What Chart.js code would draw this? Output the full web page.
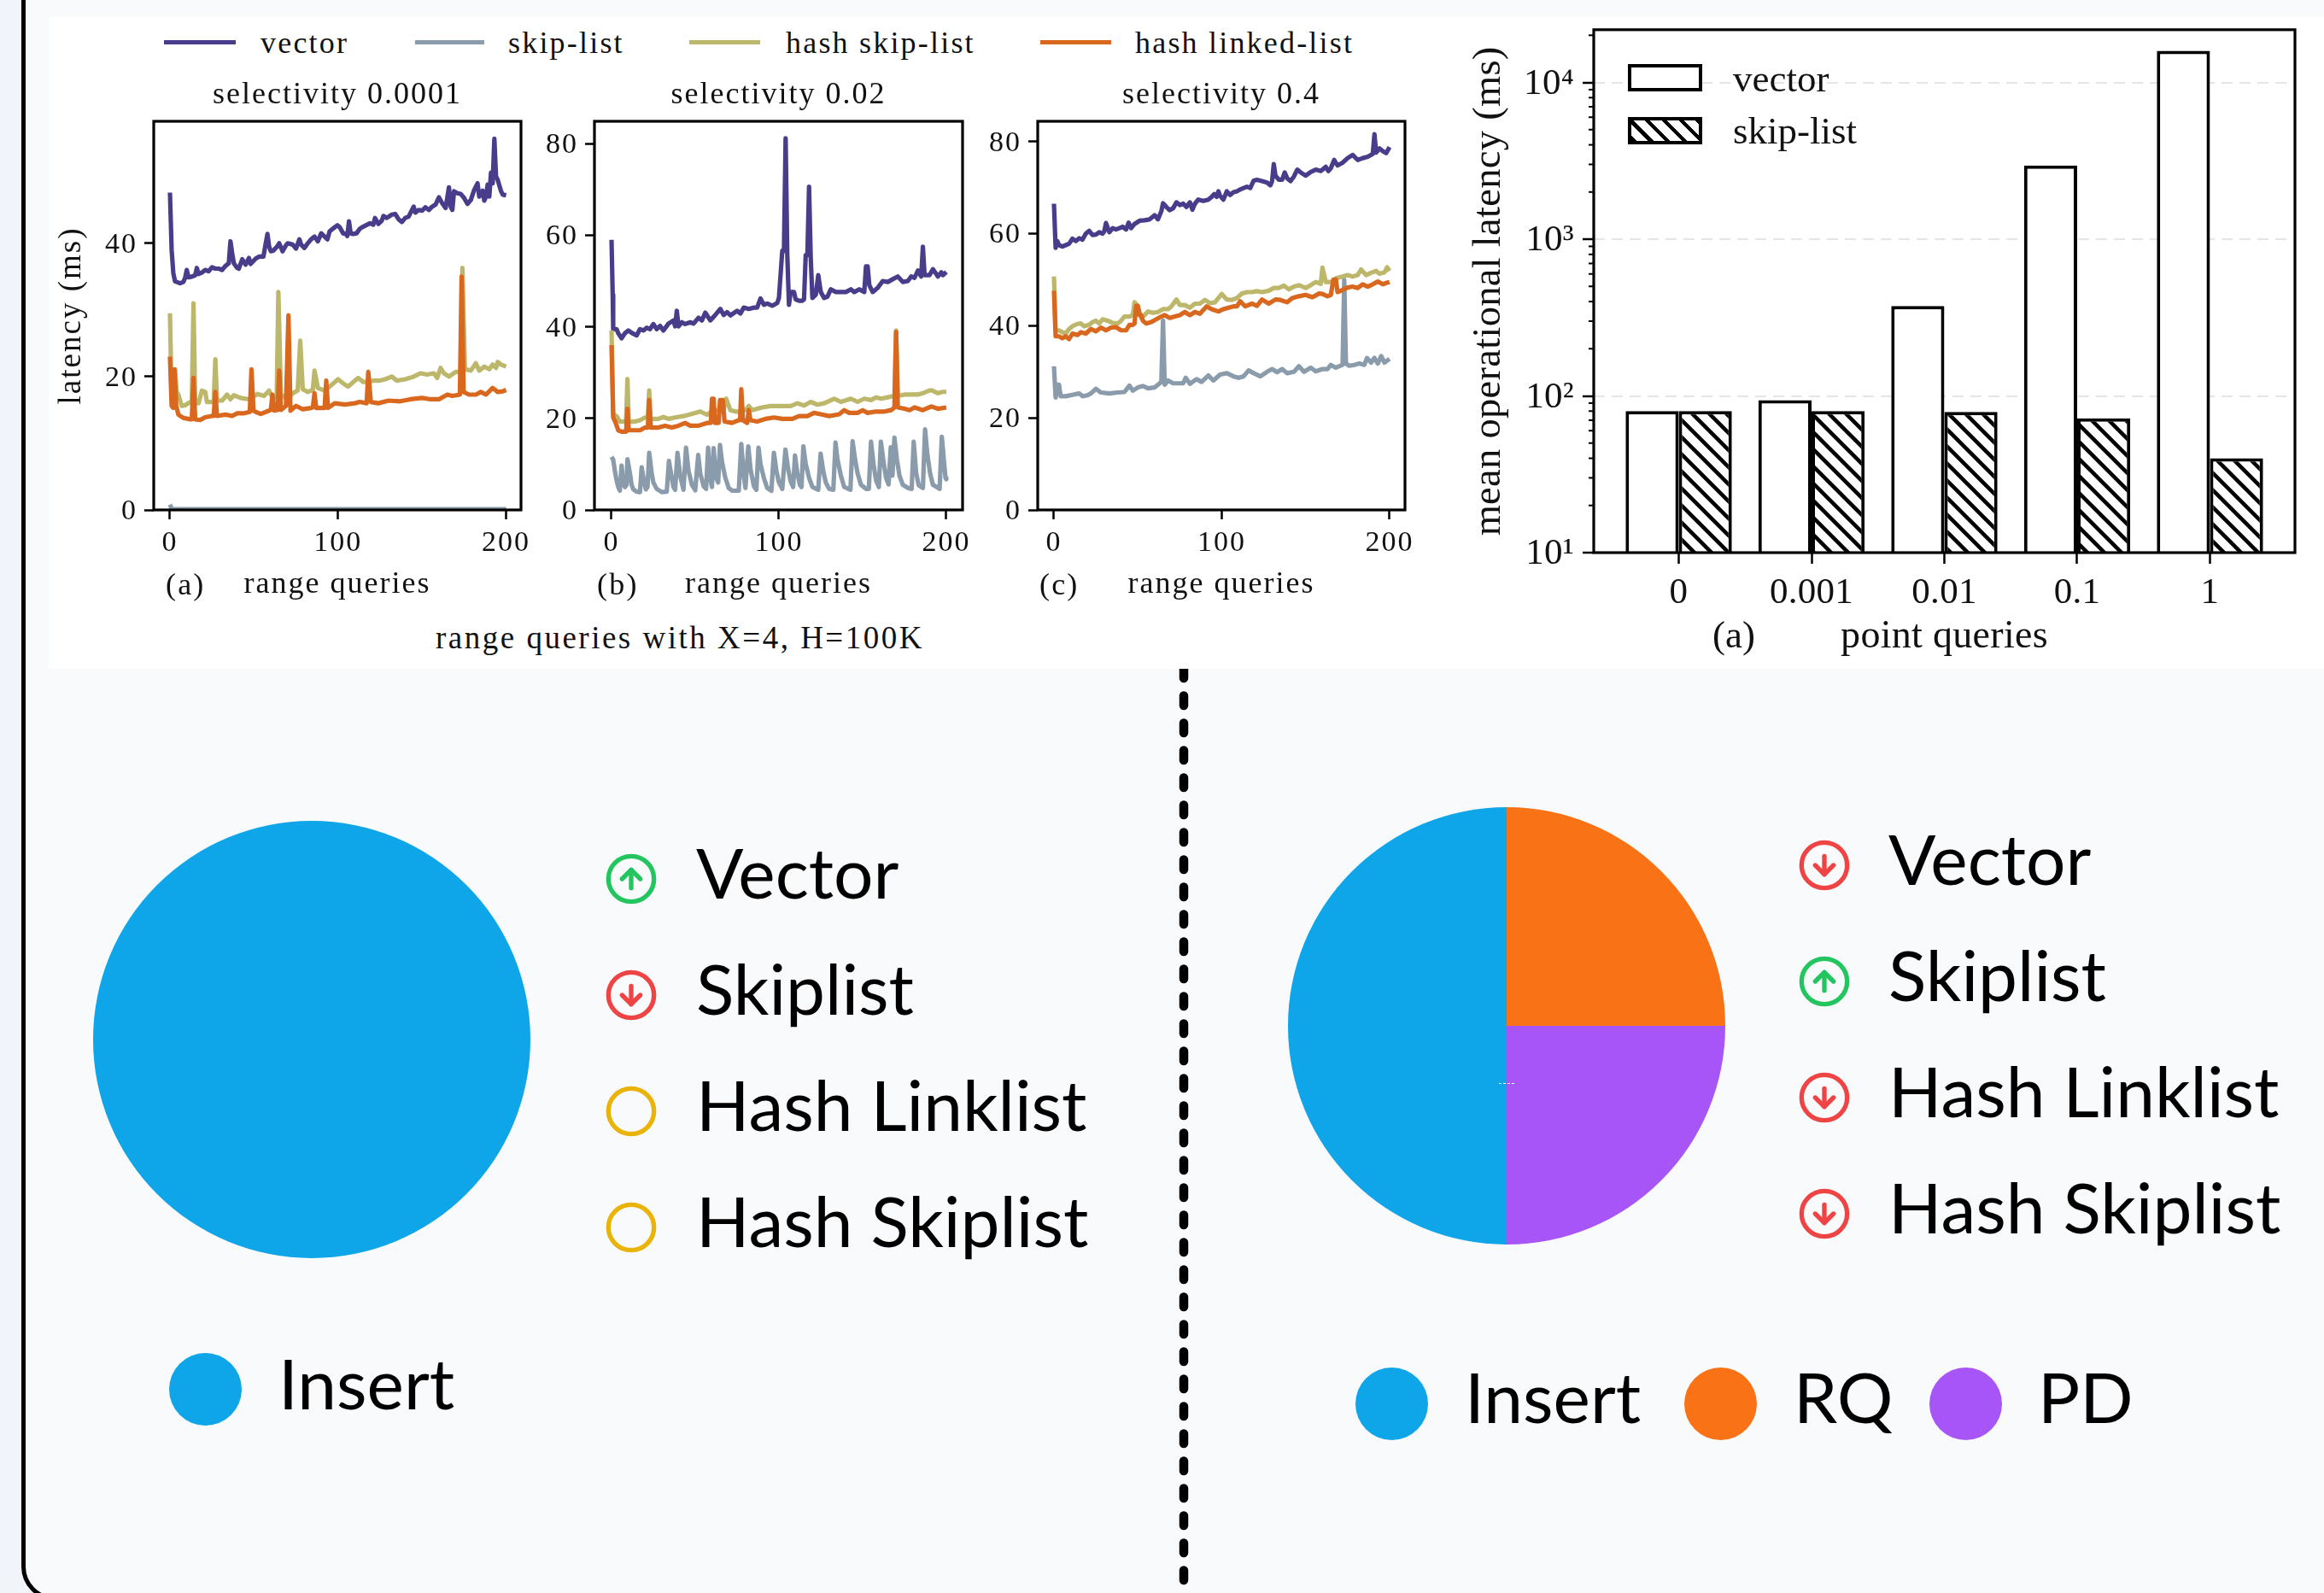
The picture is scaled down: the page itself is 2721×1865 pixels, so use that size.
<!DOCTYPE html>
<html>
<head>
<meta charset="utf-8">
<title>Operational latency</title>
<script src="https://cdn.jsdelivr.net/npm/chart.js@4/dist/chart.umd.js"></script>
<style>
html, body { margin: 0; padding: 0; }
body { position: relative; width: 2721px; height: 1865px; overflow: hidden; background: #f1f5f9; }
canvas { position: absolute; }
#frame { position: absolute; left: 25px; top: -40px; width: 2800px; height: 1914px; box-sizing: border-box;
  border: 5px solid #000; border-radius: 40px; background: #f8fafc; }
#paper { position: absolute; left: 57px; top: 20px; width: 2664px; height: 763px; background: #fff; }
#divider { position: absolute; left: 1376px; top: 783px; }
.serif { position: absolute; font-family: "Liberation Serif", serif; color: #111; white-space: nowrap; line-height: 1; }
.fig { font-size: 36px; letter-spacing: 2.2px; }
.barfig { font-size: 45px; }
.sans { position: absolute; font-family: "Lato", sans-serif; font-size: 82px; line-height: 82px; color: #000; white-space: nowrap; }
.dot { position: absolute; width: 85px; height: 85px; border-radius: 50%; }
.trend { position: absolute; }
.legline { position: absolute; height: 5px; }
.swatch { position: absolute; box-sizing: border-box; width: 87px; height: 32px; border: 4px solid #000; background: #fff; }
#pieMark { position: absolute; left: 1755px; top: 1268px; width: 18px; border-top: 1px dashed #fff; }
</style>
</head>
<body>
<div id="frame"></div>
<div id="paper"></div>
<svg id="divider" width="20" height="1082"><line x1="10" y1="-0.5" x2="10" y2="1090" stroke="#000" stroke-width="10.5" stroke-linecap="round" stroke-dasharray="11.5 20.5"/></svg>

<canvas id="panelA" width="578" height="616" style="left:62px;top:90px"></canvas>
<canvas id="panelB" width="527" height="616" style="left:630px;top:90px"></canvas>
<canvas id="panelC" width="525" height="616" style="left:1150px;top:90px"></canvas>
<canvas id="barChart" width="1005" height="775" style="left:1716px;top:-1px"></canvas>
<canvas id="pieLeft" width="512" height="512" style="left:109px;top:961px"></canvas>
<canvas id="pieRight" width="512" height="512" style="left:1508px;top:945px"></canvas>
<div id="pieMark"></div>

<script>
// range query latency as [query, ms]
var vectorA = [[0,47.6],[1,39],[2,35.5],[3,34.3],[6,34],[8,34.2],[9,34.8],[10,36],[11,34.9],[13,35],[15,35.2],[16,36.3],[17,35.4],[19,35.6],[21,36],[23,35.8],[25,36.4],[27,36.2],[29,36.2],[31,36],[33,36.6],[35,37],[36,40.3],[37,38.5],[38,37],[40,36.3],[41,36.2],[43,37.6],[45,36.8],[47,37.8],[48,36.9],[51,37.7],[53,38],[55.6,38],[57,40],[58,41.4],[59,39.5],[60,38.8],[61.5,38.9],[64,39.6],[65,40],[67,38.8],[69,39.7],[70,40],[73,39.8],[75,39.2],[77,40.6],[78,39.8],[80,39.3],[82,40],[84,40.6],[86,41],[88,40.3],[90,41.5],[92,41],[93.7,40.6],[95,41.8],[97,42.2],[99.6,42.7],[101,42.4],[103,41.5],[104.7,41.4],[105.5,41.1],[106.5,43.3],[107.5,41.5],[109,41.4],[111,41.5],[113,42.2],[115,42.5],[119,43],[121,42.8],[122,43.8],[124,42.9],[126,43.4],[127,44.1],[129,43.8],[132,44.3],[134,44.4],[136,43.6],[138,43.2],[140,43.8],[142,44],[143,44.5],[145,45.5],[146,44.6],[148,45],[150,44.9],[152,45.4],[154,45],[156,45.5],[158,45.8],[160,46.9],[162,46],[164,45.3],[166,48.4],[167,45.5],[168,45],[169,47.8],[171,47.5],[173,47.4],[175,46.8],[177,45.9],[179,46.5],[181,48],[183,49],[184,47],[186,47.9],[187,46.4],[188,47],[189,48.8],[190,47],[191,50.6],[192,49],[193,55.7],[194,50],[195,49.5],[197,47.8],[198,47.3],[200,47.2]];
var skipA = [[0,0.8],[1,0.2],[3,0.1],[60,0.1],[120,0.1],[200,0.1]];
var hashSkipA = [[0,29.5],[1,16.8],[3,21.1],[4,17.7],[5,17.3],[7,15.6],[9,15.7],[12,16.2],[13,16.2],[14,31],[15,16],[17,16],[19,17.9],[21,17.7],[22,16.2],[25,16.2],[26,16.2],[27,22.6],[28,16.4],[31,16.4],[34,17.3],[36,16.6],[38,17.2],[42,16.8],[47,16.6],[52,17.4],[56,17.1],[59,17.9],[61,16.8],[63.5,16.9],[64.5,32.7],[66,17.3],[70,16.6],[73,17.5],[76,17.9],[77.5,25.4],[79,18.1],[82,17.7],[85,18],[86,20.9],[88,18.3],[92,17.9],[95,18.5],[100,19.6],[104,18.8],[106,18.5],[110,19.4],[112,19.8],[115,19.2],[118,19.2],[121,19.4],[125,19.4],[128,19.6],[132,20],[135,19.4],[140,19.6],[145,20],[149,20.5],[153,20.3],[157,20.5],[159,19.8],[161,21.3],[163,20.5],[166,20],[170,20.7],[173,20.7],[174,36.3],[175.5,21.1],[179,20.9],[182,22],[184,20.9],[187,21.5],[190,21.1],[192,21.8],[194,21.3],[195,22.2],[197,21.8],[200,21.5]];
var hashLinkA = [[0,23],[1,15.6],[2,15.3],[2.7,21.1],[3.7,15.6],[5,14.3],[8,13.8],[12,13.6],[13,13.6],[14,19.8],[15,13.6],[18,13.5],[21,13.9],[25,14.1],[26,14.1],[27,17.7],[28,14.1],[33,14.3],[37,14.1],[40,14.5],[44,14.5],[47.5,14.7],[48.5,21.1],[49.7,14.9],[51,14.7],[54,14.4],[58,14.8],[60,15],[61,17.3],[62,14.9],[64,15],[65,20.9],[66,15],[69,15.6],[70.5,29.2],[71.7,14.9],[75,15.6],[79,15.1],[84,15.3],[85,15.4],[86,17.5],[87,15.3],[92,15.3],[93,19.4],[94,15.3],[98,16],[104,15.8],[110,16],[113,16.2],[117,16],[118,20.7],[119.5,16.2],[124,16],[130,16.4],[137,16.3],[143,16.6],[150,16.8],[155,16.6],[160,16.6],[165,17.3],[168,17.1],[172.5,17.3],[173.5,35],[174.7,17.7],[178,17.3],[182,17.3],[185,17.7],[188,17.3],[192,18.3],[195,17.7],[198,17.8],[200,18]];

var vectorB = [[0,59],[0.7,47],[1,39.5],[3,39.5],[4,38.6],[6,37.5],[8,38.6],[10,39.2],[12,38.7],[15,38.1],[17,39.5],[19,39.2],[21,39.8],[23,39.5],[25,40.6],[27,39.5],[29,40.2],[31,39.2],[34,40.7],[37,41.4],[38,40.1],[39,43.5],[40,40.1],[42,41],[44,40.6],[47,41],[49,40.7],[52,42],[54,41.4],[56,43.1],[59,41.4],[62,42.6],[65,43.9],[67,42.6],[69,43.2],[71,42.5],[75,43.5],[77,42.9],[79,44.2],[82,43.9],[85,44.2],[87,44.2],[89,46.2],[91,44.8],[93,45.1],[96,44.6],[99,45.2],[100,46.3],[102,56.6],[103,56.6],[104,81.2],[105,55.7],[106,44.8],[107,47.6],[109,47.6],[110,46],[112,45.7],[114,45.7],[115,46],[116,55.7],[117,55.7],[118,70.6],[119,55],[120,46.3],[122,47],[123.5,51.3],[125,47.6],[127,46.3],[129,46.6],[131,48.2],[134,47.6],[137,47.6],[140,47.6],[143,48.2],[145,47.6],[148,48.2],[151,47.6],[152,53.2],[153,53.2],[154,49.1],[156,47.6],[159,48.5],[162,50],[165,49.8],[168,50.4],[171,51],[174,49.8],[177,50],[179,51],[181,50.7],[183,52.3],[185,51],[186,57.5],[187,51.3],[190,51.3],[192,52.6],[195,51],[197,51.9],[198,51.3],[200,52]];
var skipB = [[0,11.6],[1,11],[2,8.5],[3,6.5],[4,5],[5,4.2],[6,9.7],[7,6],[8,5],[9,5.5],[9.5,11.1],[11,8],[12,5.5],[13,4.5],[15,4],[17,3.9],[18,9.3],[19.5,6],[20.5,4.5],[21.5,5],[22.5,12.5],[24,8],[25,6],[27,4.6],[30,3.9],[33,4],[34.3,10.7],[35.5,8],[37,5],[38,4.4],[39.4,12.5],[41,7.5],[43,4.4],[44.5,13.6],[46,8.5],[48,5.5],[50,4.3],[51.8,12],[53,8],[55,5.2],[56.5,4.6],[57.7,13.6],[59,7],[60,5],[61,13.5],[62.5,7],[63.7,6],[64.8,14.2],[66,10.5],[68,7],[70,4.8],[72,4.2],[76,4.2],[77.5,14.4],[79,7.5],[80,4.8],[81.7,13.9],[83,9],[85,5.2],[86.5,4.4],[87.8,13.6],[89,10],[91,7],[93,4.8],[95.5,4.2],[97,12.5],[98.5,8.5],[100,6],[102,4.6],[103.9,13.2],[105.5,9],[107,6.2],[108.5,5],[109.6,11.9],[111,8],[112.5,5.5],[113.5,5],[114.6,13.9],[116,10],[118,7],[120,5],[123.5,4.4],[124.9,12.3],[126.5,8.5],[128,6],[130,4.6],[132.5,4.4],[133.8,14.7],[135,11],[137,7.5],[139,5],[142.7,4.4],[144,15],[145.5,11],[147,8],[149,5.5],[152,4.6],[153.7,4.6],[155,14.9],[156.5,10],[158,6.5],[159.7,5],[160.9,14.9],[162.5,10.5],[164,7],[165.5,5.6],[166.8,13.7],[167.8,7.5],[169,15.8],[170.5,11],[172,7.5],[174,5.5],[177,4.8],[179.3,4.6],[180.5,14.9],[182,8],[183.5,5.4],[186,4.8],[187.3,17.6],[188.7,12],[190.3,8],[192,5.5],[196,4.6],[197.3,16],[198.5,11],[199.5,7],[200,6.7]];
var hashSkipB = [[0,39.2],[1,20.8],[3,20.5],[5,19.3],[8,19.3],[8.7,19.3],[9.5,28.6],[10.3,19.3],[14,19.3],[17,19.6],[20,20.2],[21.7,20.2],[22.5,26.1],[23.3,19.9],[28,19.9],[31,20.3],[34,19.9],[38,20.2],[43,20.5],[50,21.2],[53,21.5],[57,20.8],[60,21.5],[67,22.1],[68.5,24.3],[71,21.8],[74,21.5],[76,21.5],[80,21.8],[82,22.7],[84,21.8],[90,22.4],[95,22.7],[102,22.7],[107,22.7],[111,23.3],[115,22.8],[119,23.6],[123,23],[127,23.3],[133,24.3],[137,23.6],[143,24.3],[147,23.6],[151,24.3],[155,24],[158,24.6],[161,24.3],[165,24.6],[169,24.9],[170,39.2],[171,24.9],[175,25.2],[179,25.2],[183,25.2],[186,25.5],[190,26.1],[191.5,26.1],[195,25.5],[198,25.8],[200,25.8]];
var hashLinkB = [[0,36],[1,20.2],[2.5,19],[4,17.4],[6,17.1],[8.7,17.1],[9.5,22.1],[10.3,17.4],[14,17.4],[17,17.4],[20,18],[21.7,18],[22.5,24],[23.5,18],[28,18],[32,18.4],[36,18],[40,18.4],[44,19],[47,18.4],[52,18.4],[57,19],[59.3,19],[60,24.3],[61,24.3],[61.8,19],[64,19],[64.8,24],[66.5,24],[67.5,19.3],[72,19],[76,19.6],[76.8,19.6],[77.5,26.4],[78.5,19.6],[81,19],[82,21.8],[83,19.6],[87,19.3],[92,19.9],[97,20.2],[102,19.9],[108,19.9],[112,20.5],[117,20.5],[121,21.2],[125,20.9],[130,20.5],[136,20.9],[139,21.8],[142,21.2],[147,21.2],[150,21.8],[153,21.2],[158,21.5],[163,21.5],[167,21.8],[169,22.4],[170,38.9],[171,22.4],[175,22.1],[178,21.8],[181,22.4],[186,21.8],[191,22.6],[195,22.1],[200,22.4]];

var vectorC = [[0,66.5],[1,56.9],[2,58.4],[3,57.5],[5,57.2],[7,57.5],[9,57.8],[11,58.9],[13,58.4],[15,59],[17,58.7],[19,60],[21,60.6],[23,59.7],[25,59.8],[27,60.3],[29,60],[30,60.5],[31,62.3],[33,60.3],[35,61.2],[37,60.9],[39,61.2],[41,61.5],[43,60.9],[44.5,62.4],[46,61.2],[48,62.1],[51,62.8],[54,62.9],[57,63.1],[60,64],[62,63.1],[64,64.9],[65,66.6],[67,65.8],[69,65.1],[71,65.5],[73,66.8],[75,66.2],[77,66.5],[79,65.8],[81,66.8],[82.5,65.2],[84,66.5],[86,67.4],[89,67.1],[92,67.4],[94,68],[95.5,68.6],[97,68],[98,69.2],[99,68.2],[101,67.4],[103,69.2],[105,68.4],[107,69],[109,69.2],[111,69.6],[113,69.9],[115,70.2],[117,69.9],[119,71.5],[121,71.7],[124,71.4],[127,71.1],[129,70.5],[130,71.4],[131,75.1],[132,72.6],[134,71.7],[136,71.7],[137.5,73.3],[139,72],[141,71.4],[143,72.4],[145,73.9],[147,73.3],[150,72.6],[153,73.4],[156,73.9],[159,73.6],[162,74.5],[163.5,73.6],[165,74.2],[167,76],[169,74.8],[172,75.4],[175,76.4],[178,77.1],[181,76],[184,76.4],[187,76.7],[190,77.3],[191,81.6],[192,77.6],[194,78.5],[196,77.9],[198,77.5],[200,78.8]];
var skipC = [[0,31.2],[1,24.4],[2,27.2],[3,27.2],[4,24.7],[7,24.7],[11,25],[15,25.3],[17,24.7],[20,24.9],[22,25.3],[25,26.3],[28,25.5],[33,25.3],[38,25.5],[42,25.6],[45,27],[47,25.9],[50,26.6],[53,26.9],[56,26.4],[60,26.6],[63,27.5],[64,27.8],[65,41.1],[66,27.2],[68,28.1],[71,27.5],[74,27.5],[77,27.5],[78.5,28.7],[81,27.4],[85,28.4],[88,27.8],[92,29.2],[95,28.1],[99,29.4],[103,29.7],[107,29],[110,28.7],[113,29],[116,30.3],[119,29.7],[123,29],[127,30],[130,30.6],[133,29.9],[136,30.6],[139,29.7],[143,30],[146,31.2],[149,30],[153,30.9],[156,30.1],[160,30.6],[163,30.6],[165,31.5],[168,30.9],[172,31.5],[173,50],[174,31.8],[176,31.3],[179,31.5],[182,31.8],[185,31.5],[186.5,33],[189,32],[191,33],[193,31.8],[195,33.4],[197,32],[200,32.8]];
var hashSkipC = [[0,50.7],[1,39],[3,39],[5,38.6],[7,38.3],[9,39.3],[11,39.9],[14,40.4],[16,40.5],[18,39.9],[21,40.2],[23,40.8],[25,41.1],[27,40.5],[29,41.4],[32,41.1],[35,40.6],[38,40.5],[40,41.1],[42,42],[45,42],[47,42.3],[48,45.1],[50,44.2],[52,41.7],[54,42.3],[56,43.1],[59,42.8],[62,43],[65,43.6],[68,43.6],[70,44.2],[73,45.7],[75,44.5],[78,44.5],[81,43.9],[84,44.8],[87,44.8],[90,45.6],[93,44.9],[96,45.1],[100,46.9],[103,45.7],[106,45.6],[109,46],[112,47],[115,47.3],[118,47.3],[121,47.5],[124,47.3],[128,47.6],[131,48.2],[134,48.2],[137,48.7],[140,47.9],[143,48.5],[146,48.8],[150,48.2],[153,48.8],[156,49.5],[159,49.1],[160,52.6],[162,49.5],[165,49.5],[167,49.1],[168,50.3],[172,50.7],[175,51],[178,50.7],[181,51],[183,52.2],[186,51],[189,51.5],[192,51.9],[194,51.3],[197,51.6],[198.5,52.7],[200,51.9]];
var hashLinkC = [[0,47.6],[1,37.7],[3,37.7],[5,37.3],[7,37.7],[9,37.1],[11,38.3],[14,38],[16,38.6],[19,38.3],[22,39.3],[25,38.8],[28,39.6],[31,39],[34,39.6],[37,39.7],[40,39],[43,39],[45,40.2],[47,40.2],[48,40.5],[49,44.3],[50,44.3],[51,42.3],[52,42.3],[53,41.1],[55,40.5],[58,40.8],[61,41.4],[64,42],[66,42.3],[69,41.7],[72,42],[75,42.3],[78,43],[81,42.3],[84,43],[87,42.6],[91,44.2],[94,43.6],[98,43.1],[101,43.6],[104,43.9],[107,44.2],[109,44.2],[111,45.3],[114,44.2],[118,44.8],[121,44.3],[124,45.7],[128,44.8],[132,45.7],[135,45.6],[139,45.1],[142,46],[146,46.4],[150,46.7],[154,46.2],[158,47],[160,46.9],[163,46.4],[165,46.7],[166.5,50],[168,50],[169,47.3],[171,47.6],[175,48.3],[178,48.5],[181,48.2],[184,49],[187,48.5],[190,49],[193,49.6],[196,49],[198,49.3],[200,49.5]];

var xTicksRange = [0, 100, 200];
var yTicksA = [0, 20, 40];
var yTicksBC = [0, 20, 40, 60, 80];
var seriesNames = ['vector', 'skip-list', 'hash skip-list', 'hash linked-list'];
var seriesColors = ['#483d8b', '#8a9bab', '#bdb76b', '#d9681e'];

// point query latency
var pointCategories = ['0', '0.001', '0.01', '0.1', '1'];
var pointVector = [80, 94, 375, 2950, 15900];
var pointSkip = [80, 80, 79, 72, 40];
var yTicksBar = [10, 100, 1000, 10000];
var yLabelsBar = ['10\u00B9', '10\u00B2', '10\u00B3', '10\u2074'];
var yMinorBar = [20, 30, 40, 50, 60, 70, 80, 90, 200, 300, 400, 500, 600, 700, 800, 900, 2000, 3000, 4000, 5000, 6000, 7000, 8000, 9000, 20000];

// workload mix
var mixLabels = ['Insert', 'RQ', 'PD'];
var mixColors = ['#0ea5e9', '#f97316', '#a855f7'];
var mixLeft = [100];
var mixRight = [50, 25, 25];

var opNames = ['Vector', 'Skiplist', 'Hash Linklist', 'Hash Skiplist'];
var trendsLeft = ['up', 'down', 'flat', 'flat'];
var trendsRight = ['down', 'up', 'down', 'down'];

// draws the closed box around the plot
var boxPlugin = {
  id: 'box',
  afterDatasetsDraw: function(chart) {
    var a = chart.chartArea;
    chart.ctx.save();
    chart.ctx.strokeStyle = '#000';
    chart.ctx.lineWidth = 3.2;
    chart.ctx.strokeRect(a.left, a.top, a.right - a.left, a.bottom - a.top);
    chart.ctx.restore();
  }
};

var spacingPlugin = {
  id: 'spacing',
  beforeDraw: function(chart, args, opts) {
    chart.ctx.letterSpacing = (opts.px || 0) + 'px';
  }
};

function fixedTicks(list) {
  return function(scale) {
    scale.ticks = list.map(function(v) { return { value: v }; });
  };
}

function makeLineChart(id, series, xMin, xMax, yMax, yTicks, title, yLabel, yWidth) {
  new Chart(document.getElementById(id), {
    type: 'line',
    data: {
      datasets: series.map(function(values, i) {
        return {
          label: seriesNames[i],
          data: values,
          order: 4 - i,
          borderColor: seriesColors[i],
          borderWidth: 5.2,
          borderJoinStyle: 'round',
          pointRadius: 0,
          tension: 0
        };
      })
    },
    options: {
      responsive: false,
      animation: false,
      layout: { autoPadding: false, padding: { right: 30 } },
      plugins: {
        legend: { display: false },
        tooltip: { enabled: false },
        spacing: { px: 2 },
        title: {
          display: true, text: title, fullSize: false, color: '#111',
          padding: { top: 0, bottom: 8.8 },
          font: { family: 'Liberation Serif', size: 36, weight: 'normal' }
        }
      },
      scales: {
        x: {
          type: 'linear', min: xMin, max: xMax,
          afterBuildTicks: fixedTicks(xTicksRange),
          afterFit: function(scale) { scale.height = 109; },
          grid: { drawOnChartArea: false, tickLength: 11, tickWidth: 2.5, tickColor: '#000' },
          border: { display: false },
          ticks: {
            autoSkip: false, maxRotation: 0, padding: 8, color: '#111',
            font: { family: 'Liberation Serif', size: 34 },
            callback: function(v) { return String(v); }
          },
          title: {
            display: true, text: 'range queries', color: '#111', padding: 0,
            font: { family: 'Liberation Serif', size: 36 }
          }
        },
        y: {
          min: 0, max: yMax,
          afterBuildTicks: fixedTicks(yTicks),
          afterFit: function(scale) { scale.width = yWidth; },
          grid: { drawOnChartArea: false, tickLength: 11, tickWidth: 2.5, tickColor: '#000' },
          border: { display: false },
          ticks: {
            autoSkip: false, padding: 8, labelOffset: 2, color: '#111',
            font: { family: 'Liberation Serif', size: 34 },
            callback: function(v) { return String(v); }
          },
          title: {
            display: !!yLabel, text: yLabel, color: '#111', padding: 0,
            font: { family: 'Liberation Serif', size: 37 }
          }
        }
      }
    },
    plugins: [boxPlugin, spacingPlugin]
  });
}

makeLineChart('panelA', [vectorA, skipA, hashSkipA, hashLinkA], -9.65, 208.85, 58.3, yTicksA, 'selectivity 0.0001', 'latency (ms)', 118);
makeLineChart('panelB', [vectorB, skipB, hashSkipB, hashLinkB], -10.2, 209.7, 84.9, yTicksBC, 'selectivity 0.02', '', 66);
makeLineChart('panelC', [vectorC, skipC, hashSkipC, hashLinkC], -9.67, 209.2, 84.4, yTicksBC, 'selectivity 0.4', '', 65);

// back-slash hatch for the skip-list bars
function hatchPattern() {
  var tile = document.createElement('canvas');
  tile.width = 20;
  tile.height = 20;
  var c = tile.getContext('2d');
  c.fillStyle = '#fff';
  c.fillRect(0, 0, 20, 20);
  c.strokeStyle = '#000';
  c.lineWidth = 4.5;
  c.beginPath();
  c.moveTo(-5, -5); c.lineTo(25, 25);
  c.moveTo(-5, 15); c.lineTo(5, 25);
  c.moveTo(15, -5); c.lineTo(25, 5);
  c.stroke();
  return c.createPattern(tile, 'repeat');
}

var minorTicksPlugin = {
  id: 'minorTicks',
  afterDatasetsDraw: function(chart) {
    var ctx = chart.ctx;
    var y = chart.scales.y;
    var left = chart.chartArea.left;
    ctx.save();
    ctx.strokeStyle = '#000';
    ctx.lineWidth = 2;
    yMinorBar.forEach(function(v) {
      ctx.beginPath();
      ctx.moveTo(left, y.getPixelForValue(v));
      ctx.lineTo(left - 6, y.getPixelForValue(v));
      ctx.stroke();
    });
    ctx.restore();
  }
};

new Chart(document.getElementById('barChart'), {
  type: 'bar',
  data: {
    datasets: [
      {
        label: 'vector',
        data: pointVector.map(function(v, i) { return { x: i, y: v }; }),
        backgroundColor: '#fff', borderColor: '#000', borderWidth: 4,
        barPercentage: 1, categoryPercentage: 0.8
      },
      {
        label: 'skip-list',
        data: pointSkip.map(function(v, i) { return { x: i, y: v }; }),
        backgroundColor: hatchPattern(), borderColor: '#000', borderWidth: 4,
        barPercentage: 1, categoryPercentage: 0.8
      }
    ]
  },
  options: {
    responsive: false,
    animation: false,
    layout: { autoPadding: false, padding: { right: 34 } },
    plugins: {
      legend: { display: false },
      tooltip: { enabled: false },
      spacing: { px: 0.3 }
    },
    scales: {
      x: {
        type: 'linear', min: -0.64, max: 4.64, offset: false,
        afterBuildTicks: fixedTicks([0, 1, 2, 3, 4]),
        afterFit: function(scale) { scale.height = 127; },
        grid: { offset: false, drawOnChartArea: false, tickLength: 13, tickWidth: 2.5, tickColor: '#000' },
        border: { display: false },
        ticks: {
          autoSkip: false, maxRotation: 0, padding: 9, color: '#111',
          font: { family: 'Liberation Serif', size: 43 },
          callback: function(v) { return pointCategories[v]; }
        },
        title: {
          display: true, text: 'point queries', color: '#111', padding: 0,
          font: { family: 'Liberation Serif', size: 46 }
        }
      },
      y: {
        type: 'logarithmic', min: 10, max: 21700,
        afterBuildTicks: fixedTicks(yTicksBar),
        afterFit: function(scale) { scale.width = 150; },
        grid: {
          tickLength: 13, tickWidth: 2.5, tickColor: '#000', lineWidth: 2,
          color: function(c) { return c.tick && c.tick.value > 10 ? '#e5e5e5' : 'transparent'; }
        },
        border: { display: false, dash: [13, 8] },
        ticks: {
          autoSkip: false, padding: 10, labelOffset: 2, color: '#111',
          font: { family: 'Liberation Serif', size: 43 },
          callback: function(v) { return yLabelsBar[yTicksBar.indexOf(v)]; }
        },
        title: {
          display: true, text: 'mean operational latency (ms)', color: '#111', padding: 0,
          font: { family: 'Liberation Serif', size: 46.5 }
        }
      }
    }
  },
  plugins: [boxPlugin, minorTicksPlugin, spacingPlugin]
});

function makePie(id, values) {
  new Chart(document.getElementById(id), {
    type: 'pie',
    data: {
      labels: mixLabels.slice(0, values.length),
      datasets: [{ data: values, backgroundColor: mixColors, borderWidth: 0 }]
    },
    options: {
      responsive: false,
      animation: false,
      rotation: 180,
      plugins: { legend: { display: false }, tooltip: { enabled: false } }
    }
  });
}

makePie('pieLeft', mixLeft);
makePie('pieRight', mixRight);

// html labels
function addText(cls, text, left, top, extra) {
  var el = document.createElement('div');
  el.className = cls;
  el.textContent = text;
  el.style.left = left + 'px';
  el.style.top = top + 'px';
  if (extra) el.style.cssText += extra;
  document.body.appendChild(el);
  return el;
}

var lineLegendX = [192, 486, 807, 1218];
var lineLegendW = [84, 81, 83, 83];
var lineLegendTextX = [305, 595, 920, 1329];
seriesNames.forEach(function(name, i) {
  var line = document.createElement('div');
  line.className = 'legline';
  line.style.left = lineLegendX[i] + 'px';
  line.style.top = '47px';
  line.style.width = lineLegendW[i] + 'px';
  line.style.background = seriesColors[i];
  document.body.appendChild(line);
  addText('serif fig', name, lineLegendTextX[i], 32);
});

addText('serif fig', '(a)', 194, 666);
addText('serif fig', '(b)', 699, 666);
addText('serif fig', '(c)', 1217, 666);
addText('serif fig', 'range queries with X=4, H=100K', 510, 728, 'font-size:37px;letter-spacing:2.5px');
addText('serif barfig', '(a)', 2005, 721);

var s1 = document.createElement('div');
s1.className = 'swatch';
s1.style.cssText = 'left:1906px;top:75px';
document.body.appendChild(s1);
var s2 = document.createElement('div');
s2.className = 'swatch';
s2.style.cssText = 'left:1906px;top:137px;background:repeating-linear-gradient(45deg,#000 0 4.5px,#fff 4.5px 14px)';
document.body.appendChild(s2);
addText('serif barfig', 'vector', 2029, 70);
addText('serif barfig', 'skip-list', 2029, 131);

function trendIcon(kind, cx, cy) {
  var color = kind === 'up' ? '#22c55e' : kind === 'down' ? '#ef4444' : '#eab308';
  var arrow = '';
  if (kind === 'up') arrow = '<path d="m16 12-4-4-4 4"/><path d="M12 16V8"/>';
  if (kind === 'down') arrow = '<path d="m8 12 4 4 4-4"/><path d="M12 8v8"/>';
  var holder = document.createElement('div');
  holder.className = 'trend';
  holder.style.left = (cx - 32) + 'px';
  holder.style.top = (cy - 32) + 'px';
  holder.innerHTML = '<svg width="64" height="64" viewBox="0 0 24 24" fill="none" stroke="' + color +
    '" stroke-width="2" stroke-linecap="round" stroke-linejoin="round" style="display:block"><circle cx="12" cy="12" r="10"/>' + arrow + '</svg>';
  document.body.appendChild(holder);
}

function opList(trends, iconX, textX, firstCenter, firstBase) {
  opNames.forEach(function(name, i) {
    trendIcon(trends[i], iconX, firstCenter + i * 136);
    addText('sans', name, textX, firstBase + i * 136 - 73);
  });
}
opList(trendsLeft, 739, 815, 1029, 1052);
opList(trendsRight, 2136, 2211, 1013, 1036);

function mixLegend(i, dotX, textX, dotY, base) {
  var d = document.createElement('div');
  d.className = 'dot';
  d.style.left = (dotX - 42.5) + 'px';
  d.style.top = (dotY - 42.5) + 'px';
  d.style.background = mixColors[i];
  document.body.appendChild(d);
  addText('sans', mixLabels[i], textX, base - 73);
}
mixLegend(0, 240, 326, 1626, 1650);
mixLegend(0, 1629, 1715, 1643, 1666);
mixLegend(1, 2014, 2100, 1643, 1666);
mixLegend(2, 2301, 2386, 1643, 1666);
</script>
</body>
</html>
